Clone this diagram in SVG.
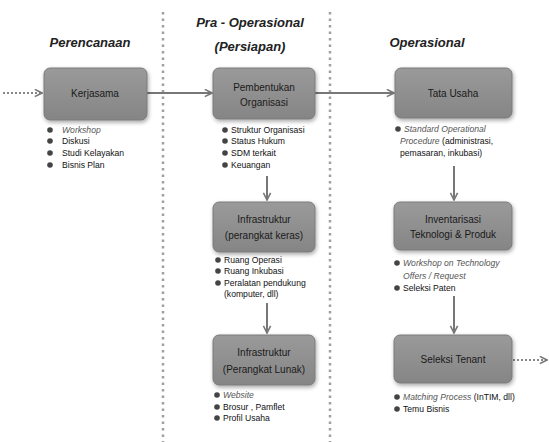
<svg xmlns="http://www.w3.org/2000/svg" width="549" height="442" viewBox="0 0 549 442">
<style>
.hd{font-family:"Liberation Sans",Arial,sans-serif;font-weight:bold;font-style:italic;font-size:13px;fill:#222;text-anchor:middle}
.bx{fill:url(#g);stroke:#7a7a7a;stroke-width:1}
.bt{font-family:"Liberation Sans",Arial,sans-serif;font-size:10px;fill:#1a1a1a;text-anchor:middle}
.li{font-family:"Liberation Sans",Arial,sans-serif;font-size:8.6px;fill:#111}
.it{font-style:italic;fill:#555}
.dot{fill:#444}
.sep{stroke:#a0a0a0;stroke-width:2.5;stroke-dasharray:2.5 4;fill:none}
.ln{stroke:#777;stroke-width:2;fill:none}
.dl{stroke:#888;stroke-width:2;stroke-dasharray:2 2;fill:none}
</style>
<defs>
<linearGradient id="g" x1="0" y1="0" x2="0" y2="1">
<stop offset="0" stop-color="#9a9a9a"/>
<stop offset="1" stop-color="#858585"/>
</linearGradient>
<filter id="sh" x="-10%" y="-10%" width="130%" height="140%">
<feGaussianBlur in="SourceAlpha" stdDeviation="2"/>
<feOffset dx="1" dy="2"/>
<feComponentTransfer><feFuncA type="linear" slope="0.35"/></feComponentTransfer>
<feMerge><feMergeNode/><feMergeNode in="SourceGraphic"/></feMerge>
</filter>
<marker id="am" viewBox="0 0 10 10" refX="9" refY="5" markerWidth="9" markerHeight="9" orient="auto" markerUnits="userSpaceOnUse">
<path d="M1,1 L9,5 L1,9" fill="none" stroke="#777" stroke-width="1.8"/>
</marker>
</defs>
<rect width="549" height="442" fill="#fff"/>

<g id="headers">
<text class="hd" x="90" y="47">Perencanaan</text>
<text class="hd" x="250" y="27">Pra - Operasional</text>
<text class="hd" x="250" y="51">(Persiapan)</text>
<text class="hd" x="427" y="47">Operasional</text>
</g>

<g id="separators">
<line class="sep" x1="163" y1="12" x2="163" y2="442"/>
<line class="sep" x1="330" y1="12" x2="330" y2="442"/>
</g>

<g id="connectors">
<line class="dl" x1="3" y1="93" x2="42" y2="93" marker-end="url(#am)"/>
<line class="ln" x1="147" y1="93" x2="212" y2="93" marker-end="url(#am)"/>
<line class="ln" x1="315" y1="93" x2="394" y2="93" marker-end="url(#am)"/>
<line class="ln" x1="267" y1="176" x2="267" y2="200" marker-end="url(#am)"/>
<line class="ln" x1="267" y1="303" x2="267" y2="333" marker-end="url(#am)"/>
<line class="ln" x1="454" y1="166" x2="454" y2="200" marker-end="url(#am)"/>
<line class="ln" x1="454" y1="296" x2="454" y2="333" marker-end="url(#am)"/>
<line class="dl" x1="513" y1="360" x2="547" y2="360" marker-end="url(#am)"/>
</g>

<g id="kerjasama">
<rect class="bx" filter="url(#sh)" x="44" y="68" width="103" height="52" rx="6"/>
<text class="bt" x="95" y="97">Kerjasama</text>
<circle class="dot" cx="50" cy="130" r="2.8"/><text class="li it" x="62" y="133">Workshop</text>
<circle class="dot" cx="50" cy="141" r="2.8"/><text class="li" x="62" y="144">Diskusi</text>
<circle class="dot" cx="50" cy="153" r="2.8"/><text class="li" x="62" y="156">Studi Kelayakan</text>
<circle class="dot" cx="50" cy="165" r="2.8"/><text class="li" x="62" y="168">Bisnis Plan</text>
</g>

<g id="pembentukan">
<rect class="bx" filter="url(#sh)" x="213" y="68" width="102" height="51" rx="6"/>
<text class="bt" x="264" y="91">Pembentukan</text>
<text class="bt" x="264" y="106">Organisasi</text>
<circle class="dot" cx="225" cy="130" r="2.8"/><text class="li" x="231" y="133">Struktur Organisasi</text>
<circle class="dot" cx="225" cy="141" r="2.8"/><text class="li" x="231" y="144">Status Hukum</text>
<circle class="dot" cx="225" cy="153" r="2.8"/><text class="li" x="231" y="156">SDM terkait</text>
<circle class="dot" cx="225" cy="165" r="2.8"/><text class="li" x="231" y="168">Keuangan</text>
</g>

<g id="infra-keras">
<rect class="bx" filter="url(#sh)" x="213" y="202" width="102" height="50" rx="6"/>
<text class="bt" x="264" y="223">Infrastruktur</text>
<text class="bt" x="264" y="239">(perangkat keras)</text>
<circle class="dot" cx="218" cy="260" r="2.8"/><text class="li" x="224" y="263">Ruang Operasi</text>
<circle class="dot" cx="218" cy="271" r="2.8"/><text class="li" x="224" y="274">Ruang Inkubasi</text>
<circle class="dot" cx="218" cy="283" r="2.8"/><text class="li" x="224" y="286">Peralatan pendukung</text>
<text class="li" x="224" y="297">(komputer,  dll)</text>
</g>

<g id="infra-lunak">
<rect class="bx" filter="url(#sh)" x="213" y="335" width="102" height="50" rx="6"/>
<text class="bt" x="264" y="356">Infrastruktur</text>
<text class="bt" x="264" y="373">(Perangkat Lunak)</text>
<circle class="dot" cx="217" cy="395" r="2.8"/><text class="li it" x="223" y="398">Website</text>
<circle class="dot" cx="217" cy="407" r="2.8"/><text class="li" x="223" y="410">Brosur , Pamflet</text>
<circle class="dot" cx="217" cy="418" r="2.8"/><text class="li" x="223" y="421">Profil Usaha</text>
</g>

<g id="tata-usaha">
<rect class="bx" filter="url(#sh)" x="395" y="68" width="117" height="50" rx="6"/>
<text class="bt" x="453" y="97">Tata Usaha</text>
<circle class="dot" cx="398" cy="129" r="2.8"/><text class="li it" x="404" y="132">Standard Operational</text>
<text class="li" x="400" y="144"><tspan class="it">Procedure</tspan> (administrasi,</text>
<text class="li" x="400" y="156">pemasaran, inkubasi)</text>
</g>

<g id="inventarisasi">
<rect class="bx" filter="url(#sh)" x="394" y="202" width="118" height="48" rx="6"/>
<text class="bt" x="453" y="223">Inventarisasi</text>
<text class="bt" x="453" y="238">Teknologi &amp; Produk</text>
<circle class="dot" cx="397" cy="263" r="2.8"/><text class="li it" x="403" y="266">Workshop on Technology</text>
<text class="li it" x="403" y="279">Offers / Request</text>
<circle class="dot" cx="397" cy="288" r="2.8"/><text class="li" x="403" y="291">Seleksi Paten</text>
</g>

<g id="seleksi-tenant">
<rect class="bx" filter="url(#sh)" x="394" y="335" width="118" height="48" rx="6"/>
<text class="bt" x="453" y="363">Seleksi Tenant</text>
<circle class="dot" cx="397" cy="397" r="2.8"/><text class="li" x="403" y="400"><tspan class="it">Matching Process</tspan> (InTIM, dll)</text>
<circle class="dot" cx="397" cy="409" r="2.8"/><text class="li" x="403" y="412">Temu Bisnis</text>
</g>
</svg>
